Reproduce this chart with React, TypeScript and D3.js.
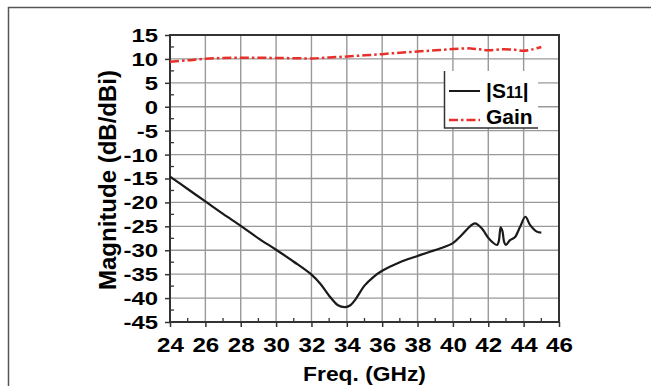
import { useEffect, useRef } from 'react';
import * as d3 from 'd3';

const s11Freq = [24, 25, 26, 27, 28, 29, 30, 31, 32, 32.5, 33, 33.5, 33.9, 34.2, 34.5, 35, 35.5, 36, 37, 38, 38.7, 39.3, 40, 40.5, 41, 41.25, 41.6, 42, 42.2, 42.5, 42.6, 42.7, 42.8, 42.9, 43.0, 43.23, 43.5, 43.8, 44.1, 44.36, 44.74, 45];
const s11Values = [-14.6, -17.2, -19.8, -22.4, -24.9, -27.5, -29.9, -32.4, -35.1, -37.0, -39.5, -41.5, -41.9, -41.5, -40.2, -37.4, -35.6, -34.3, -32.5, -31.2, -30.3, -29.6, -28.5, -26.8, -24.9, -24.4, -25.3, -27.4, -28.2, -28.9, -28.0, -25.2, -26.0, -28.3, -28.9, -27.9, -27.3, -25.1, -23.0, -24.7, -26.1, -26.3];

const gainFreq = [24, 25, 26, 27, 28, 29, 30, 31, 32, 33, 34, 35, 36, 37, 38, 39, 40, 41, 41.5, 42, 42.8, 43.5, 44, 44.5, 45];
const gainValues = [9.4, 9.7, 10.05, 10.2, 10.25, 10.25, 10.2, 10.15, 10.1, 10.3, 10.5, 10.75, 11.0, 11.3, 11.55, 11.8, 12.05, 12.2, 12.0, 11.8, 12.0, 11.9, 11.7, 12.0, 12.5];

const xTicks = [24, 26, 28, 30, 32, 34, 36, 38, 40, 42, 44, 46];
const yTicks = [15, 10, 5, 0, -5, -10, -15, -20, -25, -30, -35, -40, -45];

const W = 651;
const H = 386;
const margin = { top: 35, right: 92, bottom: 64, left: 170 };
const FONT = "'Liberation Sans', Arial, sans-serif";

export default function App() {
  const ref = useRef<SVGSVGElement>(null);

  useEffect(() => {
    const svg = d3.select(ref.current);
    svg.selectAll('*').remove();

    const iw = W - margin.left - margin.right;
    const ih = H - margin.top - margin.bottom;
    const x = d3.scaleLinear().domain([24, 46]).range([0, iw]);
    const y = d3.scaleLinear().domain([-45, 15]).range([ih, 0]);

    // outer figure frame (top + left only)
    svg.append('path')
      .attr('d', `M8.5,${H} L8.5,7.5 L${W},7.5`)
      .attr('fill', 'none')
      .attr('stroke', '#555')
      .attr('stroke-width', 1.5);

    const g = svg.append('g').attr('transform', `translate(${margin.left},${margin.top})`);

    // grid
    g.append('g')
      .selectAll('line')
      .data(xTicks.slice(1, -1))
      .join('line')
      .attr('x1', (d) => x(d))
      .attr('x2', (d) => x(d))
      .attr('y1', 0)
      .attr('y2', ih)
      .attr('stroke', '#999')
      .attr('stroke-width', 1.4);
    g.append('g')
      .selectAll('line')
      .data(yTicks.slice(1, -1))
      .join('line')
      .attr('x1', 0)
      .attr('x2', iw)
      .attr('y1', (d) => y(d))
      .attr('y2', (d) => y(d))
      .attr('stroke', '#999')
      .attr('stroke-width', 1.4);

    // minor ticks (inside)
    const xMinor = d3.range(25, 46, 2);
    g.append('g')
      .selectAll('line')
      .data(xMinor)
      .join('line')
      .attr('x1', (d) => x(d))
      .attr('x2', (d) => x(d))
      .attr('y1', ih)
      .attr('y2', ih - 4)
      .attr('stroke', '#333')
      .attr('stroke-width', 1.3);
    const yMinor = d3.range(-42.5, 15, 5);
    g.append('g')
      .selectAll('line')
      .data(yMinor)
      .join('line')
      .attr('x1', 0)
      .attr('x2', 4)
      .attr('y1', (d) => y(d))
      .attr('y2', (d) => y(d))
      .attr('stroke', '#333')
      .attr('stroke-width', 1.3);

    // axes with major ticks outward
    const xAxis = g.append('g')
      .attr('transform', `translate(0,${ih})`)
      .call(d3.axisBottom(x).tickValues(xTicks).tickFormat((d) => String(d)).tickSize(5).tickSizeOuter(0).tickPadding(10));
    const yAxis = g.append('g')
      .call(d3.axisLeft(y).tickValues(yTicks).tickFormat((d) => String(d)).tickSize(5).tickSizeOuter(0).tickPadding(4));
    [xAxis, yAxis].forEach((a) => {
      a.select('.domain').remove();
      a.selectAll('line').attr('stroke', '#333').attr('stroke-width', 1.5);
      a.selectAll('text')
        .attr('fill', '#000')
        .style('font-family', FONT)
        .style('font-weight', 'bold');
    });
    xAxis.selectAll('text').style('font-size', '21px').attr('transform', 'scale(1.15,1)');
    yAxis.selectAll('text')
      .style('font-size', '18px')
      .attr('x', -9)
      .attr('dy', '0.36em')
      .attr('transform', 'scale(1.33,1)');

    // plot box
    g.append('rect')
      .attr('width', iw)
      .attr('height', ih)
      .attr('fill', 'none')
      .attr('stroke', '#333')
      .attr('stroke-width', 2);

    const line = d3.line<[number, number]>()
      .x((d) => x(d[0]))
      .y((d) => y(d[1]))
      .curve(d3.curveCatmullRom.alpha(0.5));

    g.append('path')
      .datum(s11Freq.map((f, i) => [f, s11Values[i]] as [number, number]))
      .attr('d', line)
      .attr('fill', 'none')
      .attr('stroke', '#1a1a1a')
      .attr('stroke-width', 2.2);

    g.append('path')
      .datum(gainFreq.map((f, i) => [f, gainValues[i]] as [number, number]))
      .attr('d', line)
      .attr('fill', 'none')
      .attr('stroke', '#e8302a')
      .attr('stroke-width', 2.5)
      .attr('stroke-dasharray', '9,3,2.5,3');

    // legend
    const lg = svg.append('g').attr('transform', 'translate(444,71)');
    lg.append('rect').attr('x', 0).attr('y', 0).attr('width', 94).attr('height', 57).attr('fill', '#fff');
    lg.append('path')
      .attr('d', 'M0.5,0 L0.5,57 L94,57')
      .attr('fill', 'none')
      .attr('stroke', '#333')
      .attr('stroke-width', 1.5);
    lg.append('line').attr('x1', 5).attr('x2', 36).attr('y1', 20).attr('y2', 20)
      .attr('stroke', '#1a1a1a').attr('stroke-width', 2);
    lg.append('line').attr('x1', 5).attr('x2', 36).attr('y1', 49).attr('y2', 49)
      .attr('stroke', '#e8302a').attr('stroke-width', 2.5).attr('stroke-dasharray', '9,3,2.5,3');
    const t1 = lg.append('text').attr('x', 42).attr('y', 27)
      .style('font-family', FONT).style('font-weight', 'bold').style('font-size', '21px').attr('fill', '#000');
    t1.append('tspan').text('|S');
    t1.append('tspan').text('11').style('font-size', '16px');
    t1.append('tspan').text('|');
    lg.append('text').attr('x', 42).attr('y', 53).text('Gain')
      .style('font-family', FONT).style('font-weight', 'bold').style('font-size', '21px').attr('fill', '#000');

    // axis titles
    svg.append('text')
      .attr('transform', `translate(${margin.left + iw / 2},381) scale(1.14,1)`)
      .attr('text-anchor', 'middle')
      .text('Freq. (GHz)')
      .style('font-family', FONT).style('font-weight', 'bold').style('font-size', '20px').attr('fill', '#000');
    svg.append('text')
      .attr('transform', 'translate(116,180) rotate(-90)')
      .attr('text-anchor', 'middle')
      .text('Magnitude (dB/dBi)')
      .style('font-family', FONT).style('font-weight', 'bold').style('font-size', '24px').attr('fill', '#000');
  }, []);

  return (
    <svg
      ref={ref}
      width={W}
      height={H}
      style={{ position: 'absolute', left: 0, top: 0, background: '#fff' }}
    />
  );
}
